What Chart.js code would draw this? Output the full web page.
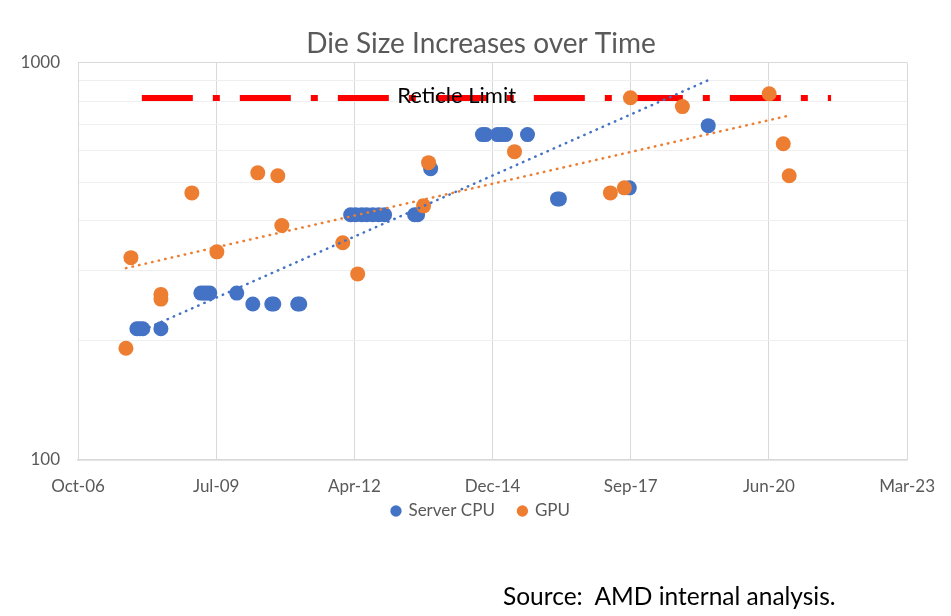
<!DOCTYPE html>
<html>
<head>
<meta charset="utf-8">
<style>
  html, body { margin: 0; padding: 0; background: #fff; }
  #wrap { position: relative; width: 951px; height: 616px; }
  #source { position: absolute; left: 503px; top: 581px; font: 24.5px Lato, sans-serif; color: #000; white-space: pre; }
</style>
<script src="https://cdn.jsdelivr.net/npm/chart.js@4"></script>
</head>
<body>
<div id="wrap">
  <canvas id="chart-1" width="951" height="616"></canvas>
  <div id="source">Source:  AMD internal analysis.</div>
</div>
<script>
// die size (mm^2) by launch date
var cpuDates = ["2007-12-10", "2008-01-01", "2008-01-22", "2008-06-01", "2009-03-17", "2009-04-08",
  "2009-04-29", "2009-05-21", "2009-12-02", "2010-03-28", "2010-08-12", "2010-08-27", "2011-02-16",
  "2011-03-03", "2012-03-05", "2012-04-10", "2012-05-24", "2012-06-29", "2012-08-12", "2012-09-24",
  "2012-11-06", "2013-06-11", "2013-07-03", "2013-10-05", "2014-10-15", "2014-11-06", "2015-02-01",
  "2015-03-02", "2015-03-31", "2015-09-06", "2016-04-10", "2016-04-24", "2017-09-12", "2019-04-06"];
var cpuSizes = [214, 214, 214, 214, 263, 263, 263, 263, 263, 247, 247, 247, 247, 247, 414, 414, 414,
  414, 414, 414, 414, 414, 414, 541, 659, 659, 659, 659, 659, 659, 454, 454, 484, 694];

var gpuDates = ["2007-09-22", "2007-10-28", "2008-06-01", "2008-06-01", "2009-01-11", "2009-07-11",
  "2010-05-03", "2010-09-25", "2010-10-24", "2012-01-08", "2012-04-25", "2013-08-15", "2013-09-20",
  "2015-06-04", "2017-04-28", "2017-08-07", "2017-09-20", "2018-10-01", "2020-06-20", "2020-09-30",
  "2020-11-12"];
var gpuSizes = [191, 323, 261, 254, 470, 334, 528, 519, 389, 352, 294, 436, 560, 597, 470, 484, 816,
  775, 835, 625, 519];

// exponential trend lines (end points)
var cpuTrendDates = ["2007-12-10", "2019-04-06"];
var cpuTrendSizes = [209, 903];
var gpuTrendDates = ["2007-09-22", "2020-11-12"];
var gpuTrendSizes = [304, 736];

var reticleDates = ["2008-01-15", "2021-09-11"];
var reticleSizes = [815, 815];
var reticleLabel = "Reticle Limit";
var reticleLabelDate = "2014-04-11";

var axisStart = "2006-10-10";
var axisEnd = "2023-03-15";
var yGridValues = [100, 200, 300, 400, 500, 600, 700, 800, 900, 1000];
var yTickLabels = [100, 1000];

var monthNames = ["Jan", "Feb", "Mar", "Apr", "May", "Jun", "Jul", "Aug", "Sep", "Oct", "Nov", "Dec"];

// excel style day serial
function toSerial(s) {
  var p = s.split("-");
  return (Date.UTC(+p[0], +p[1] - 1, +p[2]) - Date.UTC(1899, 11, 30)) / 86400000;
}

function serialLabel(v) {
  var d = new Date(Date.UTC(1899, 11, 30) + v * 86400000);
  return monthNames[d.getUTCMonth()] + "-" + String(d.getUTCFullYear()).slice(2);
}

function points(dates, values) {
  return dates.map(function (d, i) {
    return { x: toSerial(d), y: values[i] };
  });
}

// let tick labels spill outside the (squeezed) axis boxes
function noLabelClip(scale) {
  scale._computeLabelArea = function () { return null; };
}

var font = "Lato, sans-serif";
var grey = "#595959";

var reticleText = {
  id: "reticleText",
  afterDatasetsDraw: function (chart) {
    var ctx = chart.ctx;
    var x = chart.scales.x.getPixelForValue(toSerial(reticleLabelDate));
    var y = chart.scales.y.getPixelForValue(reticleSizes[0]) - 2;
    ctx.save();
    ctx.font = "22px " + font;
    ctx.fillStyle = "#000";
    ctx.textAlign = "center";
    ctx.textBaseline = "middle";
    ctx.fillText(reticleLabel, x, y);
    ctx.restore();
  }
};

var ctx = document.getElementById("chart-1").getContext("2d");
var myChart = new Chart(ctx, {
  type: "scatter",
  data: {
    datasets: [
      {
        label: "Server CPU",
        data: points(cpuDates, cpuSizes),
        backgroundColor: "#4472C4",
        borderWidth: 0,
        pointRadius: 7.5,
        order: 2
      },
      {
        label: "GPU",
        data: points(gpuDates, gpuSizes),
        backgroundColor: "#ED7D31",
        borderWidth: 0,
        pointRadius: 7.5,
        order: 1
      },
      {
        label: "CPU trend",
        type: "line",
        data: points(cpuTrendDates, cpuTrendSizes),
        borderColor: "#4472C4",
        borderWidth: 2.5,
        borderDash: [0.5, 6.2],
        borderCapStyle: "round",
        pointRadius: 0,
        order: 0
      },
      {
        label: "GPU trend",
        type: "line",
        data: points(gpuTrendDates, gpuTrendSizes),
        borderColor: "#ED7D31",
        borderWidth: 2.5,
        borderDash: [0.5, 6.2],
        borderCapStyle: "round",
        pointRadius: 0,
        order: 0
      },
      {
        label: "Reticle",
        type: "line",
        data: points(reticleDates, reticleSizes),
        borderColor: "#FF0000",
        borderWidth: 6,
        borderDash: [51, 20, 7, 20],
        borderCapStyle: "butt",
        pointRadius: 0,
        order: 3
      }
    ]
  },
  options: {
    responsive: false,
    animation: false,
    layout: { padding: { left: 54, right: 43, top: 0, bottom: 86.5 } },
    plugins: {
      tooltip: { enabled: false },
      title: {
        display: true,
        text: "Die Size Increases over Time",
        color: grey,
        font: { family: font, size: 28, weight: "normal" },
        padding: { top: 27, bottom: 2 }
      },
      legend: {
        position: "bottom",
        labels: {
          color: grey,
          font: { family: font, size: 17 },
          usePointStyle: true,
          pointStyle: "circle",
          boxWidth: 8,
          boxHeight: 8,
          padding: 23.5,
          filter: function (item) { return item.datasetIndex < 2; },
          sort: function (a, b) { return a.datasetIndex - b.datasetIndex; }
        }
      }
    },
    scales: {
      x: {
        type: "linear",
        min: toSerial(axisStart),
        max: toSerial(axisEnd),
        afterFit: function (scale) { scale.height = 19; noLabelClip(scale); },
        ticks: {
          stepSize: 1000,
          color: grey,
          font: { family: font, size: 17 },
          padding: 16,
          maxRotation: 0,
          callback: function (v) { return serialLabel(v); }
        },
        grid: { color: "#d9d9d9", drawTicks: false },
        border: { color: "#d9d9d9", width: 1.5 }
      },
      y: {
        type: "logarithmic",
        min: 100,
        max: 1000,
        afterFit: function (scale) { scale.width = 24; noLabelClip(scale); },
        afterBuildTicks: function (scale) {
          scale.ticks = yGridValues.map(function (v) { return { value: v }; });
        },
        ticks: {
          color: grey,
          font: { family: font, size: 17 },
          padding: 18,
          autoSkip: false,
          callback: function (v) { return yTickLabels.indexOf(v) >= 0 ? String(v) : ""; }
        },
        grid: {
          drawTicks: false,
          color: function (c) { return c.tick && c.tick.value === 1000 ? "#d9d9d9" : "#efefef"; }
        },
        border: { color: "#d9d9d9" }
      }
    }
  },
  plugins: [reticleText]
});
</script>
</body>
</html>
